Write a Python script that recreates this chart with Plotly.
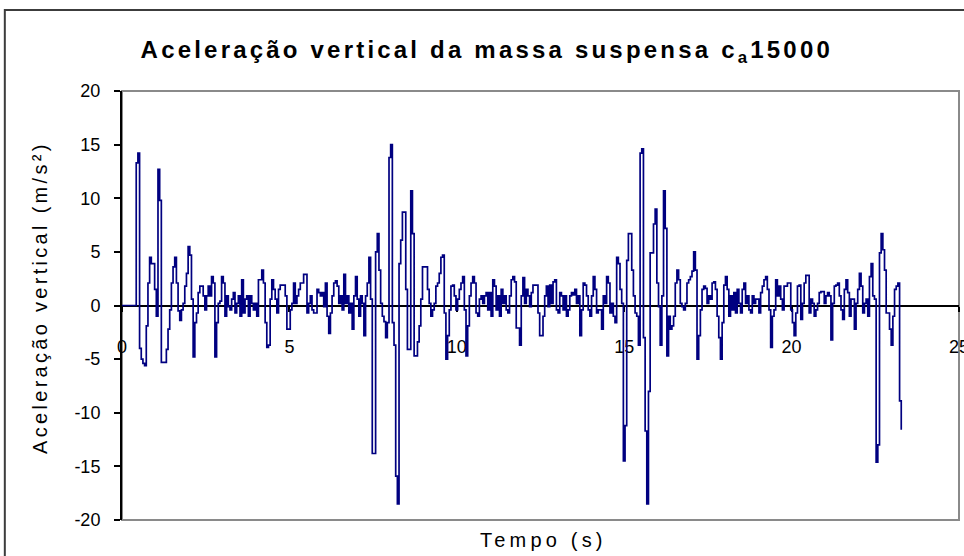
import numpy as np
import plotly.graph_objects as go

# Vertical acceleration of the sprung mass (m/s^2), sampled every 0.05 s from t = 0
DT = 0.05
acc = [
    0.0, 0.0, 0.0, 0.0, 0.0, 0.0, 0.0, 0.0, 0.0, 13.3,
    14.2, -4.0, -5.0, -5.4, -5.6, -1.9, 2.1, 4.5, 3.9, 3.9,
    1.5, -1.0, 12.7, 9.8, -5.3, -5.3, -5.3, -4.1, -2.2, -0.4,
    2.1, 3.6, 4.5, 2.1, -0.5, -1.4, -0.4, 0.2, 1.8, 3.0,
    5.5, 4.7, 0.6, -4.8, -1.6, -0.7, 1.2, 1.8, 1.8, 0.9,
    -0.4, 0.9, 1.8, 0.9, 2.7, 2.1, -4.8, -1.6, 0.2, 0.4,
    2.7, 2.1, -1.0, 0.9, -0.1, -0.4, 0.6, 1.2, -0.7, 0.2,
    0.9, -1.0, 2.4, -0.7, 0.6, 0.9, -1.0, 0.9, 0.2, -0.4,
    0.2, -1.0, 2.4, 2.4, 3.3, 2.1, -1.6, -3.9, -3.7, 0.6,
    2.4, 1.5, 0.6, -0.7, 1.5, 1.9, 1.9, 1.9, 0.9, -2.2,
    -2.2, -0.4, 0.2, 2.1, 0.2, 0.9, 1.5, 2.1, 2.1, 2.9,
    2.9, -0.7, 0.2, 0.9, -0.4, -0.7, -0.7, 1.5, 1.2, 0.9,
    1.2, -0.1, 2.1, -1.0, -2.6, -0.7, 0.9, 2.1, 2.3, 1.8,
    0.2, 0.9, -0.4, 2.9, 0.2, 0.9, -0.7, 0.2, -2.2, 0.9,
    2.7, 0.6, -1.0, 0.9, 0.2, -2.8, 0.9, 2.1, 4.5, 0.6,
    -13.8, -13.8, 5.0, 6.7, 3.3, 0.2, -1.0, -1.5, -3.0, -1.6,
    13.8, 15.0, -1.6, -3.7, -15.9, -18.5, 3.9, 6.1, 8.7, 8.7,
    1.5, -4.1, -4.1, 10.7, 6.7, -4.7, -4.7, -3.4, -1.9, 0.6,
    3.6, 3.6, 3.6, 1.5, 0.2, -1.0, -0.4, 0.2, 1.8, 2.1,
    3.0, 4.5, 4.7, -0.7, -5.0, -2.8, -0.4, 1.8, 1.9, 0.9,
    -0.4, 0.6, 1.5, 2.1, 2.7, -0.4, -4.7, -1.9, 0.9, 2.1,
    2.7, 2.1, -0.7, -1.0, 0.6, 0.9, 0.2, 0.9, 1.2, -0.4,
    1.2, -1.0, 2.4, 1.8, -0.4, 0.9, -1.0, 1.5, 0.2, 0.9,
    -0.4, -0.7, 0.9, 2.4, 2.7, 2.2, -2.1, -2.1, -3.7, 0.9,
    2.6, 0.2, 1.5, 0.9, -0.1, 1.2, 1.9, 1.9, 1.9, -0.7,
    -2.8, -2.8, -1.0, 0.9, 1.8, -0.1, 1.9, 0.2, 2.2, 2.4,
    -0.4, -0.7, 1.2, 0.9, -0.4, 0.9, -1.0, -0.4, 0.9, 1.2,
    1.0, 1.5, 0.2, 0.9, -2.8, -0.4, 2.1, 1.9, 0.9, -0.4,
    -1.0, 0.9, 2.7, 1.5, -0.7, -0.4, -0.4, -2.2, 0.9, 0.2,
    2.7, 2.1, -0.7, 0.2, -1.0, -1.6, 4.5, 3.9, 1.5, 0.2,
    -14.5, -11.2, 4.2, 6.7, 6.7, 3.3, 0.9, -0.7, -1.0, -3.7,
    14.2, 14.6, -3.0, -11.7, -18.5, -8.0, 4.9, 4.9, 7.6, 9.0,
    2.1, -0.1, -3.7, 0.9, 10.7, 7.2, -4.7, -1.0, -2.2, -1.9,
    -1.0, 2.1, 3.3, 2.4, 0.2, -0.1, -0.4, 0.2, 2.1, 2.4,
    2.7, 3.2, 5.0, 3.3, -5.0, -2.8, -0.4, 1.5, 1.8, 1.6,
    0.2, 0.9, 0.6, 2.1, 2.2, 1.5, -1.0, -3.0, -5.0, -1.6,
    1.9, 2.7, 1.5, -1.0, 0.9, -0.4, 1.2, -0.7, 1.5, 0.2,
    -0.7, 1.5, 2.1, 0.2, 0.9, -0.4, -0.7, 0.9, 0.2, 0.6,
    0.6, -0.7, 1.2, 1.8, 2.4, 2.7, 1.5, -0.4, -3.9, -1.0,
    -0.4, 2.4, 0.9, 1.8, 0.6, -0.4, 1.8, 1.8, 2.1, 2.1,
    -0.4, -1.6, -2.8, -0.7, 1.8, 1.9, -1.3, 0.2, 2.1, 2.8,
    2.8, -0.7, 0.6, 0.2, -1.0, -0.4, 0.2, 1.2, 1.3, 1.3,
    0.2, 0.9, 1.2, 0.9, -3.2, 0.2, 1.8, 1.9, 2.1, 0.9,
    -0.4, -1.3, 1.5, 2.4, 1.2, -1.0, 0.6, 0.6, -2.2, 0.2,
    1.5, 3.0, 1.8, -0.7, 0.2, 0.6, -1.0, 2.7, 3.9, 0.9,
    0.6, -14.6, -13.0, 4.9, 6.7, 5.2, 3.3, -0.7, -0.7, -2.2,
    -3.7, -1.0, 1.5, 1.8, 2.1, -8.9, -11.5,
]
tempo = np.round(np.arange(len(acc)) * DT, 2)

x_ticks = [0, 5, 10, 15, 20, 25]
y_ticks = [-20, -15, -10, -5, 0, 5, 10, 15, 20]

FONT = "Liberation Sans, Arial, sans-serif"


def spaced(text, px):
    return f'<span style="letter-spacing:{px}px">{text}</span>'


fig = go.Figure()
fig.add_trace(go.Scatter(
    x=tempo, y=acc, mode="lines",
    line=dict(color="#000080", width=1.7, shape="hvh"),
    showlegend=False, hoverinfo="skip",
))

fig.update_layout(
    width=964, height=556,
    margin=dict(l=122, r=5, t=91, b=36, autoexpand=False),
    paper_bgcolor="white", plot_bgcolor="white",
    font=dict(family=FONT, color="black", size=18),
    title=dict(
        text=spaced("<b>Aceleração vertical da massa suspensa c<sub>a</sub>15000</b>", 3.2),
        font=dict(family=FONT, size=24, color="black"),
        x=0.505, xref="container", xanchor="center",
        y=1 - 50 / 556, yref="container", yanchor="middle",
        automargin=False,
    ),
    xaxis=dict(
        range=[0, 25], tickvals=x_ticks, ticktext=[str(v) for v in x_ticks],
        showgrid=False, zeroline=False, automargin=False,
        showline=True, linecolor="black", linewidth=2,
        ticks="outside", ticklen=5, tickwidth=1.5, tickcolor="black",
        ticklabelstandoff=20, ticklabeloverflow="allow",
        anchor="free", position=0.5, layer="below traces",
        tickfont=dict(size=18),
    ),
    yaxis=dict(
        range=[-20, 20], tickvals=y_ticks, ticktext=[str(v) for v in y_ticks],
        showgrid=False, zeroline=False, automargin=False,
        showline=True, linecolor="black", linewidth=2,
        ticks="outside", ticklen=6, tickwidth=1.5, tickcolor="black",
        ticklabelstandoff=10,
        tickfont=dict(size=18),
    ),
    shapes=[
        # plot-area frame
        dict(type="rect", xref="paper", yref="paper", x0=0, y0=0, x1=1, y1=1,
             line=dict(color="#8a8a8a", width=2), layer="below"),
        # chart-area frame
        dict(type="rect", xref="paper", yref="paper",
             x0=-0.14, y0=-0.3, x1=1.2, y1=1.189,
             line=dict(color="#3c3c3c", width=2), layer="below"),
    ],
    annotations=[
        dict(text=spaced("Tempo (s)", 4.2), xref="paper", yref="paper",
             x=0.503, y=-0.047, xanchor="center", yanchor="middle",
             showarrow=False, font=dict(size=20)),
        dict(text=spaced("Aceleração vertical (m/s²)", 3.3), xref="paper", yref="paper",
             x=-0.098, y=0.52, xanchor="center", yanchor="middle",
             textangle=-90, showarrow=False, font=dict(size=20)),
    ],
)

fig.write_html("out.html")
